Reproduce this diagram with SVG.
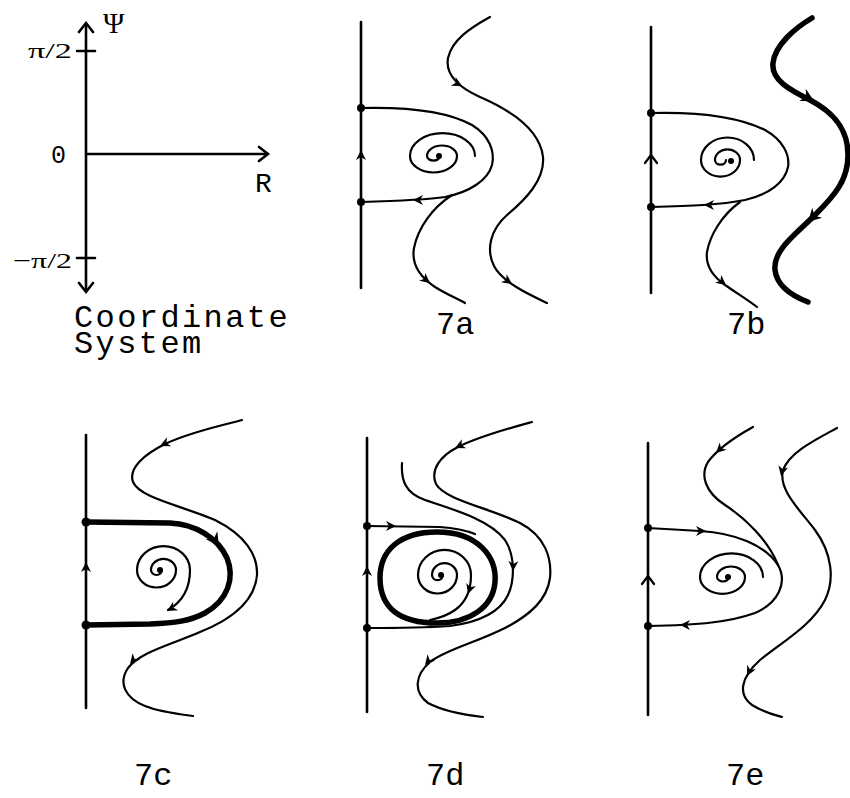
<svg xmlns="http://www.w3.org/2000/svg" width="850" height="798" viewBox="0 0 850 798">
<style>
.ln{fill:none;stroke:#000;stroke-width:2.2;stroke-linecap:round;stroke-linejoin:round}
.th{fill:none;stroke:#000;stroke-width:5.5;stroke-linecap:round;stroke-linejoin:round}
.ax{fill:none;stroke:#000;stroke-width:2.6;stroke-linecap:round}
.dot{fill:#000}
.lbl{font-family:"Liberation Mono","DejaVu Sans Mono",monospace;font-size:32px;fill:#000}
.sym{font-family:"Liberation Serif","DejaVu Serif",serif;fill:#000}
</style>
<defs>
<path id="ah" d="M0,0 L-10,-5 L-7,0 L-10,5 Z" fill="#000"/>
<path id="ahb" d="M0,0 L-13,-7 L-9,0 L-13,7 Z" fill="#000"/>
<path id="chev" d="M-8,-6 L0,0 L-8,6" fill="none" stroke="#000" stroke-width="2.2" stroke-linecap="round" stroke-linejoin="round"/>
</defs>
<rect width="850" height="798" fill="#fff"/>

<g id="coord">
<path class="ax" d="M86,24 V291 M77,51 H95 M77,258 H95 M86,154 H267"/>
<path class="ax" d="M79,32 L86,23 L93,32 M79,283 L86,292 L93,283 M259,147 L268,154 L259,161"/>
<text class="sym" x="103" y="33" style="font-size:29px">Ψ</text>
<text class="sym" x="28" y="58" style="font-size:22px" textLength="44" lengthAdjust="spacingAndGlyphs">π/2</text>
<text class="lbl" x="51" y="163" style="font-size:25px">0</text>
<text class="lbl" x="255" y="192" style="font-size:28px">R</text>
<text class="sym" x="13" y="268" style="font-size:22px" textLength="59" lengthAdjust="spacingAndGlyphs">−π/2</text>
<text class="lbl" x="74" y="327" letter-spacing="2.4">Coordinate</text>
<text class="lbl" x="74" y="353" letter-spacing="2.4">System</text>
</g>

<g id="p7a">
<path class="ax" d="M361,22 V288"/>
<circle class="dot" cx="361" cy="108" r="4"/>
<circle class="dot" cx="361" cy="202" r="4"/>
<path class="ln" d="M361,108 C400,107 445,110 472,125 C490,136 495,152 492,165 C488,180 470,192 445,197 C425,200 395,201 361,202"/>
<path class="ln" d="M452,195 C432,208 418,228 414,248 C411,265 420,277 435,287 C448,295 458,299 465,303"/>
<path class="ln" d="M490,17 C470,28 452,40 448,58 C445,75 460,88 480,97 C510,110 540,130 543,157 C545,180 525,200 507,215 C490,230 486,250 494,266 C502,282 530,295 547,303"/>
<path class="ln" d="M440,156 A6.5,4.6 0 0 1 427,156 A15,10.5 0 0 1 457,156 A23.5,16.5 0 0 1 410,156 A32.5,22.8 0 0 1 475,156"/>
<circle class="dot" cx="439" cy="156" r="3"/>
<use href="#ah" transform="translate(361,150) rotate(-90)"/>
<use href="#ah" transform="translate(413,200) rotate(180)"/>
<use href="#ah" transform="translate(430,283) rotate(38)"/>
<use href="#ah" transform="translate(462,86) rotate(28)"/>
<use href="#ah" transform="translate(512,284) rotate(35)"/>
<text class="lbl" x="436" y="334">7a</text>
</g>

<g id="p7b">
<path class="ax" d="M651,27 V293"/>
<circle class="dot" cx="651" cy="113" r="4"/>
<circle class="dot" cx="651" cy="207" r="4"/>
<path class="ln" d="M651,113 C690,112 735,115 765,130 C783,140 790,155 788,167 C785,182 770,194 745,200 C720,205 690,206 651,207"/>
<path class="ln" d="M740,202 C722,215 710,235 707,252 C705,268 715,278 725,285 C738,294 748,300 757,307"/>
<path class="th" d="M812,18 C795,28 775,45 773,63 C771,80 790,90 810,100 C835,113 848,130 848,155 C848,180 835,195 815,215 C795,235 773,250 775,270 C777,287 795,297 808,302"/>
<path class="ln" d="M726,160 A5.5,4.7 0 0 1 715,160 A12.5,10.6 0 0 1 740,160 A19.5,16.6 0 0 1 701,160 A26.5,22.5 0 0 1 754,160"/>
<circle class="dot" cx="731" cy="161" r="3"/>
<use href="#chev" transform="translate(651,155) rotate(-90)"/>
<use href="#ah" transform="translate(704,205) rotate(180)"/>
<use href="#ah" transform="translate(726,285) rotate(38)"/>
<use href="#ahb" transform="translate(814,101) rotate(28)"/>
<use href="#ahb" transform="translate(808,222) rotate(135)"/>
<text class="lbl" x="727" y="334">7b</text>
</g>

<g id="p7c">
<path class="ax" d="M86,435 V708"/>
<circle class="dot" cx="86" cy="522" r="4.5"/>
<circle class="dot" cx="86" cy="625" r="4.5"/>
<path class="th" d="M86,522 L170,523 C195,524 218,538 227,558 C235,578 228,600 205,613 C190,621 175,623 150,624 L86,625"/>
<path class="ln" d="M162,570 A5.5,5 0 0 1 151,570 A12.5,11.2 0 0 1 176,570 A19.5,17.5 0 0 1 137,570 A26.5,23.8 0 0 1 190,570 C190,588 182,602 168,610"/>
<circle class="dot" cx="160" cy="570" r="3"/>
<path class="ln" d="M242,420 C220,426 190,432 165,444 C145,454 128,468 133,482 C140,498 180,505 215,520 C245,535 258,555 257,575 C255,600 235,618 200,632 C170,645 140,652 128,668 C118,683 125,698 145,706 C160,712 178,714 193,716"/>
<use href="#ah" transform="translate(86,562) rotate(-90)"/>
<use href="#ahb" transform="translate(219,546) rotate(55)"/>
<use href="#ah" transform="translate(167,611) rotate(150)"/>
<use href="#ah" transform="translate(160,446) rotate(155)"/>
<use href="#ah" transform="translate(130,664) rotate(130)"/>
<text class="lbl" x="134" y="785">7c</text>
</g>

<g id="p7d">
<path class="ax" d="M367,438 V712"/>
<circle class="dot" cx="367" cy="526" r="4"/>
<circle class="dot" cx="367" cy="628" r="4"/>
<path class="ln" d="M367,526 L440,527 C455,528 465,530 475,534"/>
<path class="th" d="M437,532 C478,532 497,557 495,582 C493,607 470,623 437,623 C400,623 380,608 380,578 C380,550 400,532 437,532 Z"/>
<path class="ln" d="M443,575 A5.5,5.2 0 0 1 432,575 A12.5,11.9 0 0 1 457,575 A19.5,18.5 0 0 1 418,575 A26.5,25.2 0 0 1 471,575 C471,592 465,603 455,610 C448,615 440,618 430,620"/>
<circle class="dot" cx="441" cy="575" r="3"/>
<path class="ln" d="M402,463 C401,480 405,493 425,500 C455,510 490,520 505,540 C515,555 515,580 508,595 C500,612 480,622 450,626 C420,628 390,628 367,628"/>
<path class="ln" d="M532,422 C510,428 480,436 458,447 C440,456 430,470 436,484 C445,500 490,508 520,523 C545,536 552,558 550,578 C547,600 530,615 505,628 C475,643 445,650 430,662 C415,675 413,692 428,703 C445,712 465,715 483,717"/>
<use href="#ah" transform="translate(367,566) rotate(-90)"/>
<use href="#ah" transform="translate(396,526) rotate(0)"/>
<use href="#ah" transform="translate(468,594) rotate(108)"/>
<use href="#ah" transform="translate(513,571) rotate(92)"/>
<use href="#ah" transform="translate(455,448) rotate(155)"/>
<use href="#ah" transform="translate(425,665) rotate(130)"/>
<text class="lbl" x="426" y="785">7d</text>
</g>

<g id="p7e">
<path class="ax" d="M648,443 V715"/>
<circle class="dot" cx="648" cy="528" r="4"/>
<circle class="dot" cx="648" cy="626" r="4"/>
<path class="ln" d="M648,528 L700,531 C735,533 765,545 778,565 C788,583 778,603 755,613 C730,622 700,625 648,626"/>
<path class="ln" d="M753,427 C735,437 718,448 708,462 C700,475 705,492 725,505 C745,518 768,540 778,565"/>
<path class="ln" d="M837,428 C815,440 790,452 783,470 C778,490 800,510 815,530 C832,553 835,580 825,600 C812,625 785,640 760,660 C740,678 738,695 752,705 C765,713 775,715 782,717"/>
<path class="ln" d="M729,577 A6,4.5 0 0 1 717,577 A14,10.5 0 0 1 745,577 A22.5,16.9 0 0 1 700,577 A31.5,23.6 0 0 1 763,577"/>
<circle class="dot" cx="728" cy="577" r="3"/>
<use href="#chev" transform="translate(648,576) rotate(-90)"/>
<use href="#ah" transform="translate(706,531) rotate(0)"/>
<use href="#ah" transform="translate(680,625) rotate(180)"/>
<use href="#ah" transform="translate(716,453) rotate(136)"/>
<use href="#ah" transform="translate(781,476) rotate(103)"/>
<use href="#ah" transform="translate(747,676) rotate(117)"/>
<text class="lbl" x="726" y="785">7e</text>
</g>
</svg>
